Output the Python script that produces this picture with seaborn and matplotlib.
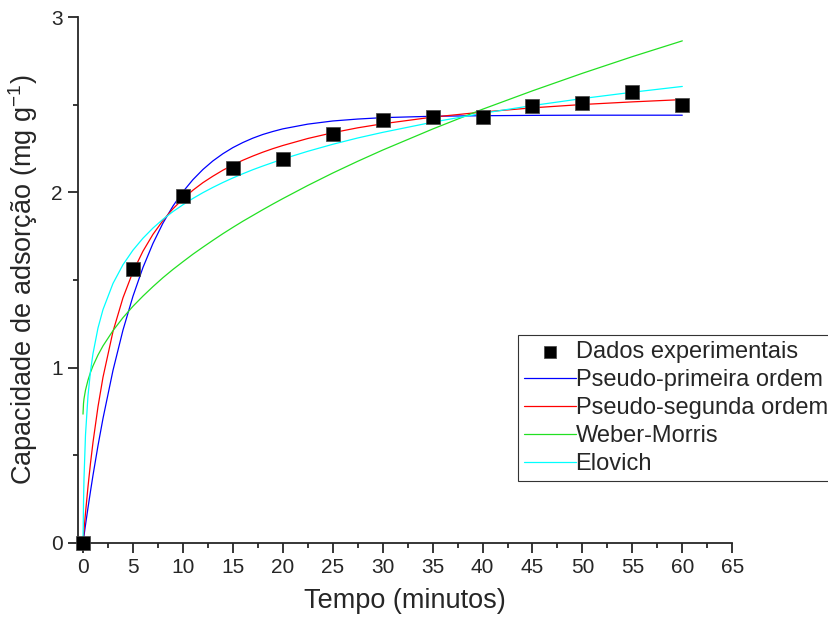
import matplotlib
matplotlib.use("Agg")
import matplotlib.pyplot as plt
import seaborn as sns
from matplotlib.ticker import MultipleLocator

# experimental points
tempo = [0, 5, 10, 15, 20, 25, 30, 35, 40, 45, 50, 55, 60]
q_exp = [0.0, 1.56, 1.98, 2.14, 2.19, 2.33, 2.41, 2.43, 2.43, 2.49, 2.51, 2.57, 2.50]

# fitted curves
t_fit = [0, 0.05, 0.1, 0.25, 0.5, 0.75, 1, 1.5, 2, 3, 4, 5, 6, 7, 8, 9, 10,
         11, 12, 13, 14, 15, 16, 17, 18, 19, 20, 22.5, 25, 27.5, 30, 35, 40,
         45, 50, 55, 60]
pfo = [0.0, 0.021, 0.042, 0.103, 0.201, 0.295, 0.386, 0.555, 0.710, 0.984,
       1.214, 1.407, 1.571, 1.708, 1.824, 1.921, 2.003, 2.072, 2.130, 2.179,
       2.220, 2.255, 2.284, 2.309, 2.330, 2.347, 2.362, 2.389, 2.407, 2.418,
       2.426, 2.434, 2.437, 2.439, 2.440, 2.440, 2.440]
pso = [0.0, 0.036, 0.071, 0.171, 0.321, 0.455, 0.574, 0.777, 0.945, 1.206,
       1.398, 1.547, 1.664, 1.760, 1.839, 1.906, 1.962, 2.012, 2.055, 2.092,
       2.126, 2.156, 2.183, 2.207, 2.229, 2.249, 2.267, 2.307, 2.340, 2.368,
       2.391, 2.429, 2.458, 2.482, 2.501, 2.516, 2.529]
weber = [0.735, 0.796, 0.822, 0.872, 0.929, 0.973, 1.010, 1.072, 1.124, 1.211,
         1.285, 1.350, 1.408, 1.462, 1.513, 1.560, 1.604, 1.647, 1.687, 1.726,
         1.764, 1.800, 1.835, 1.868, 1.901, 1.933, 1.964, 2.039, 2.110, 2.177,
         2.241, 2.361, 2.474, 2.579, 2.679, 2.774, 2.864]
elovich = [0.0, 0.227, 0.368, 0.617, 0.840, 0.979, 1.080, 1.226, 1.331, 1.480,
           1.587, 1.670, 1.738, 1.796, 1.846, 1.890, 1.929, 1.965, 1.998, 2.028,
           2.056, 2.082, 2.106, 2.129, 2.150, 2.170, 2.190, 2.234, 2.274, 2.310,
           2.342, 2.400, 2.451, 2.495, 2.535, 2.571, 2.604]

sns.set_style("ticks")
plt.rcParams["font.family"] = ["Liberation Sans", "DejaVu Sans"]
plt.rcParams["mathtext.fontset"] = "custom"
plt.rcParams["mathtext.rm"] = "Liberation Sans"

fig = plt.figure(figsize=(8.29, 6.28), dpi=100)
ax = fig.add_axes([0.0941, 0.1354, 0.7892, 0.8375])

lw = 0.9
sns.lineplot(x=t_fit, y=pfo, color="#0000ff", lw=lw, ax=ax, label="Pseudo-primeira ordem")
sns.lineplot(x=t_fit, y=pso, color="#ff0000", lw=lw, ax=ax, label="Pseudo-segunda ordem")
sns.lineplot(x=t_fit, y=weber, color="#22e022", lw=lw, ax=ax, label="Weber-Morris")
sns.lineplot(x=t_fit, y=elovich, color="#00ffff", lw=lw, ax=ax, label="Elovich")
sns.scatterplot(x=tempo, y=q_exp, marker="s", s=100, color="black", edgecolor="#444444",
                linewidth=0.5, ax=ax, label="Dados experimentais", clip_on=False, zorder=5)

ax.set_xlim(-0.5, 65)
ax.set_ylim(0, 3)
ax.xaxis.set_major_locator(MultipleLocator(5))
ax.xaxis.set_minor_locator(MultipleLocator(2.5))
ax.yaxis.set_major_locator(MultipleLocator(1))
ax.yaxis.set_minor_locator(MultipleLocator(0.5))
ax.tick_params(which="major", direction="out", length=7, width=1.3, labelsize=15, pad=4)
ax.tick_params(which="minor", direction="out", length=3.5, width=1.3)
for side in ["top", "right"]:
    ax.spines[side].set_visible(False)
for side in ["left", "bottom"]:
    ax.spines[side].set_linewidth(1.3)

ax.set_xlabel("Tempo (minutos)", fontsize=19.5, labelpad=8)
ax.set_ylabel(r"Capacidade de adsorção (mg g$\mathregular{^{-1}}$)", fontsize=19.5, labelpad=8)

handles, labels = ax.get_legend_handles_labels()
order = [4, 0, 1, 2, 3]
leg = ax.legend([handles[i] for i in order], [labels[i] for i in order],
                loc="upper left", bbox_to_anchor=(0.6245, 0.4666),
                bbox_transform=fig.transFigure, borderaxespad=0,
                fontsize=17, frameon=True, fancybox=False, framealpha=1,
                edgecolor="#333333", borderpad=0.25, labelspacing=0.26,
                handlelength=2.2, handletextpad=0.0, markerscale=0.8)
leg.get_frame().set_linewidth(0.8)

fig.savefig("out.png", dpi=100)
